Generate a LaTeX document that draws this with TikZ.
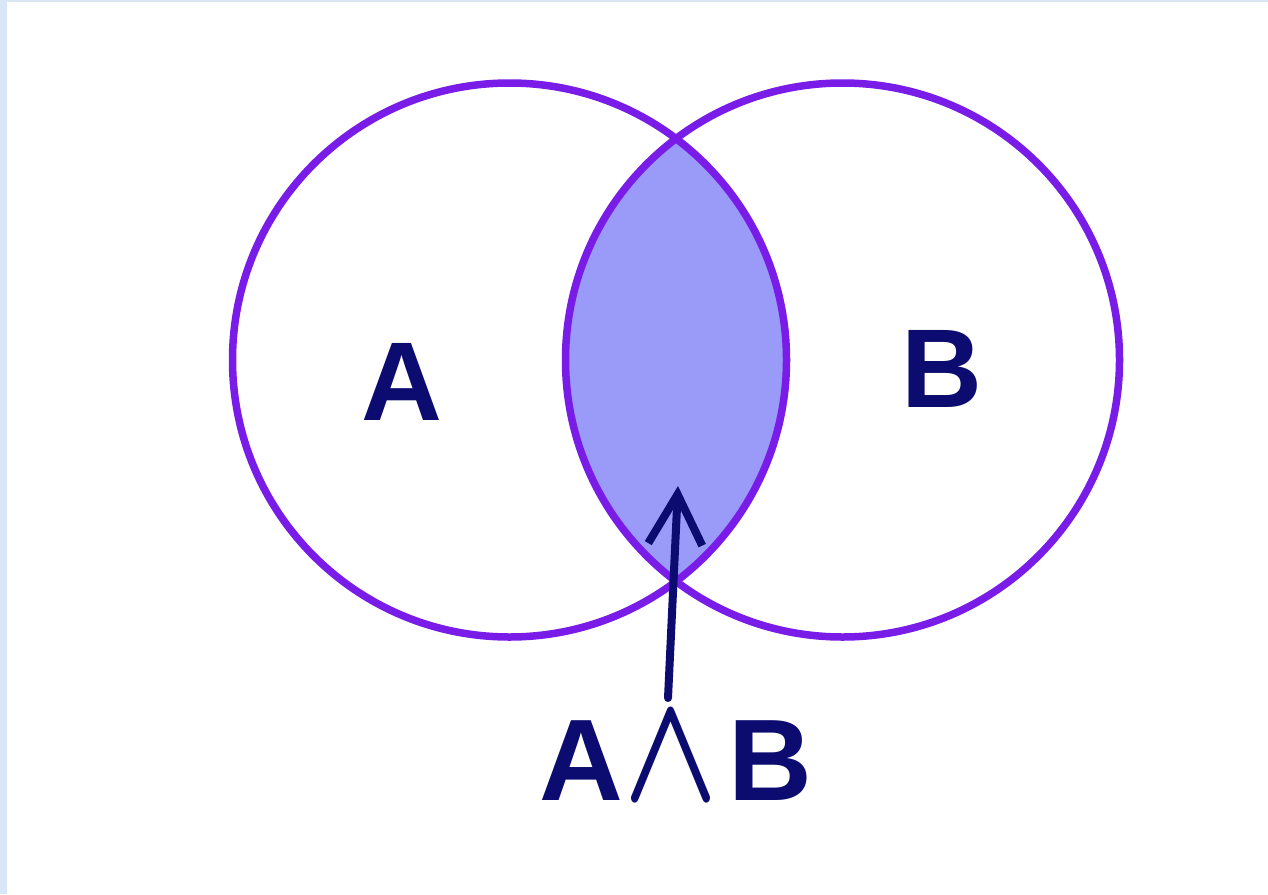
\documentclass[tikz,border=0pt]{standalone}
\usepackage{fontspec}
\setmainfont{Liberation Sans}
\usetikzlibrary{arrows.meta}
\definecolor{venn}{RGB}{122,28,232}
\definecolor{lens}{RGB}{154,154,248}
\definecolor{ink}{RGB}{12,12,112}
\definecolor{edge}{RGB}{216,230,246}
\tikzset{
  vennline/.style={draw=venn, line width=7.5pt},
  setlabel/.style={text=ink, font=\fontsize{112}{112}\selectfont\bfseries, inner sep=0pt, anchor=base},
  pointer/.style={draw=ink, line width=8pt, line cap=round, line join=round,
    -{Straight Barb[length=50pt,width=54pt,line width=8pt]}}
}
\begin{document}
\begin{tikzpicture}[x=1pt,y=-1pt]
\useasboundingbox (0,0) rectangle (1268,894);
\fill[white] (0,0) rectangle (1268,894);
\fill[edge] (0,0) rectangle (7,894);
\fill[edge] (0,0) rectangle (1268,2);
\coordinate (cA) at (509.5,360);
\coordinate (cB) at (842.5,360);
\begin{scope}
  \clip (cA) circle (277pt);
  \fill[lens] (cB) circle (277pt);
\end{scope}
\draw[vennline] (cA) circle (277pt);
\draw[vennline] (cB) circle (277pt);
\node[setlabel] (la) at (402,420) {A};
\node[setlabel] (lb) at (942,407) {B};
\node[setlabel, font=\fontsize{116}{116}\selectfont\bfseries] (lab) at (676,800)
  {A\resizebox{95pt}{86pt}{\boldmath$\wedge$}\hspace{10pt}B};
\coordinate (tail) at (668,698);
\coordinate (tip) at (678,486);
\draw[pointer] (tail) -- (tip);
\end{tikzpicture}
\end{document}
